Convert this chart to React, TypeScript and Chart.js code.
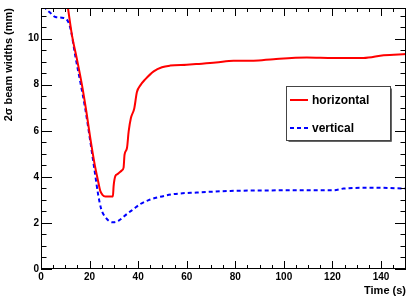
import React, { useEffect, useRef } from "react";
import { Chart, registerables } from "chart.js";

Chart.register(...registerables);

// ---- data ----
const seriesLabels = ["horizontal", "vertical"];
const xTitle = "Time (s)";
const yTitle = "2\u03c3 beam widths (mm)";

const xRange = [0, 150.3];
const yRange = [0, 11.33];
const xMajorStep = 20;
const xMinorStep = 5;
const yMajorStep = 2;
const yMinorStep = 0.5;

const horizontalTime = [
  9, 11.1, 12.8, 14.8, 16.9, 18.7, 20.3, 22.1, 23.5, 24.4, 25.3, 26.5, 29.6, 29.9,
  30.6, 31.5, 33.3, 34.0, 34.4, 35.4, 36.1, 37.0, 38.4, 39.5, 40.9, 42.9, 46.4,
  49.8, 53.2, 60, 64.2, 72, 79.3, 87.5, 95.8, 109.5, 120.5, 132.8, 141.1, 150.3,
];
const horizontalWidth = [
  12.8, 11.33, 10.12, 9.11, 7.97, 6.82, 5.68, 4.54, 3.82, 3.39, 3.22, 3.15, 3.15, 3.6,
  4.03, 4.12, 4.28, 4.4, 4.96, 5.25, 5.97, 6.54, 6.97, 7.68, 7.97, 8.23, 8.58,
  8.76, 8.83, 8.87, 8.9, 8.96, 9.04, 9.04, 9.11, 9.18, 9.16, 9.16, 9.28, 9.33,
];

const verticalTime = [
  0, 1.8, 3.8, 5.9, 9.3, 11.4, 12.5, 14.1, 16.2, 18.2, 20.3, 22.1, 23.5, 24.8, 26.5,
  29.2, 29.9, 32, 35.4, 38.1, 40.9, 44.3, 47.8, 54.6, 64.2, 78, 93, 106.8, 120.5,
  124.6, 137, 150.3,
];
const verticalWidth = [
  11.7, 11.33, 11.12, 10.94, 10.9, 10.69, 10.26, 9.26, 8.11, 6.97, 5.54, 4.25, 3.25,
  2.6, 2.25, 2.03, 2.03, 2.1, 2.39, 2.6, 2.82, 2.99, 3.1, 3.25, 3.32, 3.39, 3.41,
  3.42, 3.42, 3.49, 3.53, 3.49,
];

const FONT = "'Liberation Sans', Arial, Helvetica, sans-serif";

function stepValues(min: number, max: number, step: number): number[] {
  const out: number[] = [];
  for (let v = min; v <= max + 1e-9; v += step) out.push(Math.round(v * 1000) / 1000);
  return out;
}

const rootFrame = {
  id: "rootFrame",
  afterDatasetsDraw(chart: any) {
    const { ctx, chartArea } = chart;
    const { left, right, top, bottom } = chartArea;
    const xs = chart.scales.x;
    const ys = chart.scales.y;
    ctx.save();
    ctx.strokeStyle = "#000";
    ctx.lineWidth = 1;
    ctx.strokeRect(left + 0.5, top + 0.5, right - left - 1, bottom - top - 1);

    ctx.beginPath();
    // x ticks (bottom & top)
    for (const v of stepValues(xRange[0], xRange[1], xMinorStep)) {
      const px = Math.round(xs.getPixelForValue(v)) + 0.5;
      const len = v % xMajorStep === 0 ? 8 : 4;
      ctx.moveTo(px, bottom);
      ctx.lineTo(px, bottom - len);
      ctx.moveTo(px, top);
      ctx.lineTo(px, top + len);
    }
    // y ticks (left & right)
    for (const v of stepValues(yRange[0], yRange[1], yMinorStep)) {
      const py = Math.round(ys.getPixelForValue(v)) + 0.5;
      const len = Math.abs(v % yMajorStep) < 1e-6 ? 11 : 5.5;
      ctx.moveTo(left, py);
      ctx.lineTo(left + len, py);
      ctx.moveTo(right, py);
      ctx.lineTo(right - len, py);
    }
    ctx.stroke();

    // legend box
    const bx = 286.5, by = 86.5, bw = 104, bh = 54;
    ctx.fillStyle = "#fff";
    ctx.fillRect(bx, by, bw, bh);
    ctx.strokeStyle = "#444";
    ctx.strokeRect(bx, by, bw, bh);
    ctx.strokeStyle = "#666";
    ctx.beginPath();
    ctx.moveTo(bx + bw + 1, by + 2);
    ctx.lineTo(bx + bw + 1, by + bh + 1);
    ctx.lineTo(bx + 2, by + bh + 1);
    ctx.stroke();

    chart.data.datasets.forEach((ds: any, i: number) => {
      const cy = i === 0 ? 100 : 128;
      ctx.strokeStyle = ds.borderColor;
      ctx.lineWidth = ds.borderWidth;
      ctx.setLineDash(ds.borderDash || []);
      ctx.beginPath();
      ctx.moveTo(290, cy);
      ctx.lineTo(308, cy);
      ctx.stroke();
      ctx.setLineDash([]);
      ctx.fillStyle = "#000";
      ctx.font = `bold 12px ${FONT}`;
      ctx.textBaseline = "middle";
      ctx.textAlign = "left";
      ctx.fillText(ds.label, 312, cy + 0.5);
    });
    ctx.restore();
  },
};

export default function App() {
  const canvasRef = useRef<HTMLCanvasElement | null>(null);

  useEffect(() => {
    document.body.style.margin = "0";
    const canvas = canvasRef.current;
    if (!canvas) return;
    const chart = new Chart(canvas, {
      type: "line",
      data: {
        datasets: [
          {
            label: seriesLabels[0],
            data: horizontalTime.map((t, i) => ({ x: t, y: horizontalWidth[i] })),
            borderColor: "#ff0000",
            borderWidth: 2,
            pointRadius: 0,
            fill: false,
            cubicInterpolationMode: "monotone",
            clip: 0,
          },
          {
            label: seriesLabels[1],
            data: verticalTime.map((t, i) => ({ x: t, y: verticalWidth[i] })),
            borderColor: "#0000ff",
            borderWidth: 2,
            borderDash: [4, 3],
            pointRadius: 0,
            fill: false,
            cubicInterpolationMode: "monotone",
            clip: 0,
          },
        ],
      },
      options: {
        animation: false,
        responsive: false,
        maintainAspectRatio: false,
        layout: { padding: { left: 0, right: 9, top: 5, bottom: 0 } },
        plugins: {
          legend: { display: false },
          tooltip: { enabled: false },
        },
        scales: {
          x: {
            type: "linear",
            min: xRange[0],
            max: xRange[1],
            grid: { display: false, drawTicks: false },
            border: { display: false },
            ticks: {
              stepSize: xMajorStep,
              includeBounds: false,
              color: "#000",
              font: { family: FONT, size: 10, weight: "bold" },
              padding: 2,
              maxRotation: 0,
              autoSkip: false,
            },
            title: {
              display: true,
              text: xTitle,
              align: "end",
              color: "#000",
              font: { family: FONT, size: 11, weight: "bold" },
              padding: { top: 0, bottom: 2 },
            },
            afterFit(scale: any) {
              scale.height = 31;
            },
          },
          y: {
            type: "linear",
            min: yRange[0],
            max: yRange[1],
            grid: { display: false, drawTicks: false },
            border: { display: false },
            ticks: {
              stepSize: yMajorStep,
              includeBounds: false,
              color: "#000",
              font: { family: FONT, size: 10, weight: "bold" },
              padding: 2,
            },
            title: {
              display: true,
              text: yTitle,
              align: "end",
              color: "#000",
              font: { family: FONT, size: 11, weight: "bold" },
              padding: { top: 2, bottom: 0 },
            },
            afterFit(scale: any) {
              scale.width = 41;
            },
          },
        },
      },
      plugins: [rootFrame],
    } as any);
    return () => chart.destroy();
  }, []);

  return (
    <div style={{ position: "fixed", left: 0, top: 0, width: 415, height: 300, background: "#fff" }}>
      <canvas ref={canvasRef} width={415} height={300} style={{ width: 415, height: 300 }} />
    </div>
  );
}
